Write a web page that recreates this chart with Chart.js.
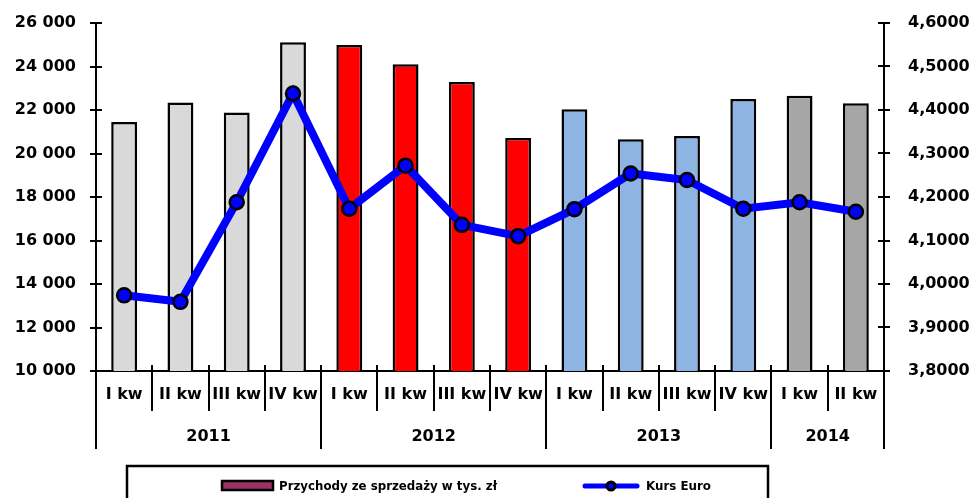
<!DOCTYPE html>
<html>
<head>
<meta charset="utf-8">
<script src="https://cdn.jsdelivr.net/npm/chart.js@4.4.1/dist/chart.umd.min.js"></script>
<style>
  html, body { margin:0; padding:0; background:#fff; }
  #wrap { width:972px; height:498px; overflow:hidden; }
</style>
</head>
<body>
<div id="wrap"><canvas id="myChart" width="972" height="498"></canvas></div>
<script>
// data
const quarters = ["I kw","II kw","III kw","IV kw","I kw","II kw","III kw","IV kw","I kw","II kw","III kw","IV kw","I kw","II kw"]
const years = ["2011","2012","2013","2014"]
const yearSizes = [4,4,4,2]
const yearColors = ["#D9D9D9","#FF0000","#8DB4E2","#A6A6A6"]
const revenue = [21450,22340,21890,25110,24990,24100,23290,20710,22040,20650,20800,22510,22650,22310]
const euro = [3.974,3.959,4.188,4.438,4.173,4.272,4.136,4.110,4.172,4.254,4.239,4.173,4.188,4.166]
const leftTicks = [10000,12000,14000,16000,18000,20000,22000,24000,26000]
const rightTicks = [3.8,3.9,4.0,4.1,4.2,4.3,4.4,4.5,4.6]
const legendLabels = ["Przychody ze sprzedaży w tys. zł","Kurs Euro"]

const FONT = "DejaVu Sans"

// colour per bar from its year
barColors = []
yearSizes.forEach((n, i) => {
    for (let k = 0; k < n; k++) barColors.push(yearColors[i])
})

function fmtThousands(v){
    return String(Math.round(v)).replace(/\B(?=(\d{3})+(?!\d))/g, " ")
}

// axes ticks crossing the lines, quarter/year labels and dividers, legend box
const decorations = {
    id: "decorations",
    afterDraw(chart) {
        const ctx = chart.ctx
        const area = chart.chartArea
        const x = chart.scales.x
        const y = chart.scales.y
        const y1 = chart.scales.y1
        ctx.save()
        ctx.strokeStyle = "#000"
        ctx.lineWidth = 2

        // left axis ticks
        leftTicks.forEach(t => {
            const py = Math.round(y.getPixelForValue(t))
            ctx.beginPath(); ctx.moveTo(area.left - 6, py); ctx.lineTo(area.left + 6, py); ctx.stroke()
        })
        rightTicks.forEach(t => {
            const py = Math.round(y1.getPixelForValue(t))
            ctx.beginPath(); ctx.moveTo(area.right - 6, py); ctx.lineTo(area.right + 6, py); ctx.stroke()
        })

        // category dividers
        const step = (x.getPixelForValue(1) - x.getPixelForValue(0))
        let yearStarts = [0]
        yearSizes.forEach((n, i) => yearStarts.push(yearStarts[i] + n))
        for (let i = 0; i <= quarters.length; i++) {
            const px = Math.round(x.getPixelForValue(i) - step / 2)
            const isYear = yearStarts.indexOf(i) >= 0
            ctx.beginPath()
            ctx.moveTo(px, area.bottom - 6)
            ctx.lineTo(px, isYear ? area.bottom + 78 : area.bottom + 40)
            ctx.stroke()
        }

        // quarter labels
        ctx.fillStyle = "#000"
        ctx.font = "bold 16px '" + FONT + "'"
        ctx.textAlign = "center"
        ctx.textBaseline = "middle"
        quarters.forEach((q, i) => {
            ctx.fillText(q, x.getPixelForValue(i), area.bottom + 24)
        })
        // year labels
        years.forEach((yr, i) => {
            const a = x.getPixelForValue(yearStarts[i]) - step / 2
            const b = x.getPixelForValue(yearStarts[i + 1] - 1) + step / 2
            ctx.fillText(yr, (a + b) / 2, area.bottom + 66)
        })

        // legend
        ctx.lineWidth = 2.5
        ctx.strokeRect(127, 466, 641, 50)
        const ly = 486
        ctx.fillStyle = "#993366"
        ctx.fillRect(222, ly - 5, 51, 9)
        ctx.strokeRect(222, ly - 5, 51, 9)

        ctx.font = "bold 13px '" + FONT + "'"
        ctx.textAlign = "left"
        ctx.fillStyle = "#000"
        drawSqueezed(ctx, legendLabels[0], 279, ly + 1, 218)

        ctx.strokeStyle = "#0000FF"
        ctx.lineWidth = 5
        ctx.lineCap = "round"
        ctx.beginPath(); ctx.moveTo(585, ly); ctx.lineTo(637, ly); ctx.stroke()
        ctx.beginPath(); ctx.arc(611, ly, 4, 0, Math.PI * 2)
        ctx.fillStyle = "#0000FF"; ctx.fill()
        ctx.strokeStyle = "#000"; ctx.lineWidth = 3; ctx.stroke()
        ctx.fillStyle = "#000"
        drawSqueezed(ctx, legendLabels[1], 646, ly + 1, 65)
        ctx.restore()
    }
}

function drawSqueezed(ctx, text, x0, y0, w){
    const m = ctx.measureText(text).width
    const sx = w / m
    ctx.save()
    ctx.translate(x0, y0)
    ctx.scale(sx, 1)
    ctx.fillText(text, 0, 0)
    ctx.restore()
}

function fitY(w){
    return s => {
        s.width = w
        s.paddingTop = 0
        s.paddingBottom = 0
    }
}

const myChart = document.getElementById("myChart")
let chart = new Chart(myChart, {
    type: "bar",
    data: {
        labels: quarters,
        datasets: [{
            type: "line",
            label: legendLabels[1],
            data: euro,
            yAxisID: "y1",
            borderColor: "#0000FF",
            borderWidth: 8,
            pointRadius: 7,
            pointBackgroundColor: "#0000FF",
            pointBorderColor: "#000",
            pointBorderWidth: 2.5,
            tension: 0,
            order: 0
        }, {
            type: "bar",
            label: legendLabels[0],
            data: revenue,
            yAxisID: "y",
            backgroundColor: barColors,
            borderColor: "#000",
            borderWidth: 2.5,
            categoryPercentage: 1,
            barPercentage: 0.46,
            order: 1
        }]
    },
    options: {
        responsive: false,
        animation: false,
        devicePixelRatio: 1,
        layout: { padding: { top: 23, left: 0, right: 0, bottom: 0 } },
        plugins: { legend: { display: false }, tooltip: { enabled: false } },
        scales: {
            x: {
                offset: true,
                grid: { display: false, drawTicks: false },
                border: { display: true, color: "#000", width: 2 },
                ticks: { display: false },
                afterFit: s => { s.height = 127 }
            },
            y: {
                position: "left",
                min: 10000, max: 26000,
                grid: { display: false, drawTicks: false },
                border: { display: true, color: "#000", width: 2 },
                ticks: {
                    stepSize: 2000, padding: 20, color: "#000",
                    font: { family: FONT, size: 16, weight: "bold" },
                    callback: v => fmtThousands(v)
                },
                afterFit: fitY(96)
            },
            y1: {
                position: "right",
                min: 3.8, max: 4.6,
                grid: { display: false, drawTicks: false },
                border: { display: true, color: "#000", width: 2 },
                ticks: {
                    stepSize: 0.1, padding: 24, color: "#000",
                    font: { family: FONT, size: 16, weight: "bold" },
                    callback: v => v.toFixed(4).replace(".", ",")
                },
                afterFit: fitY(88)
            }
        }
    },
    plugins: [decorations]
})
</script>
</body>
</html>
